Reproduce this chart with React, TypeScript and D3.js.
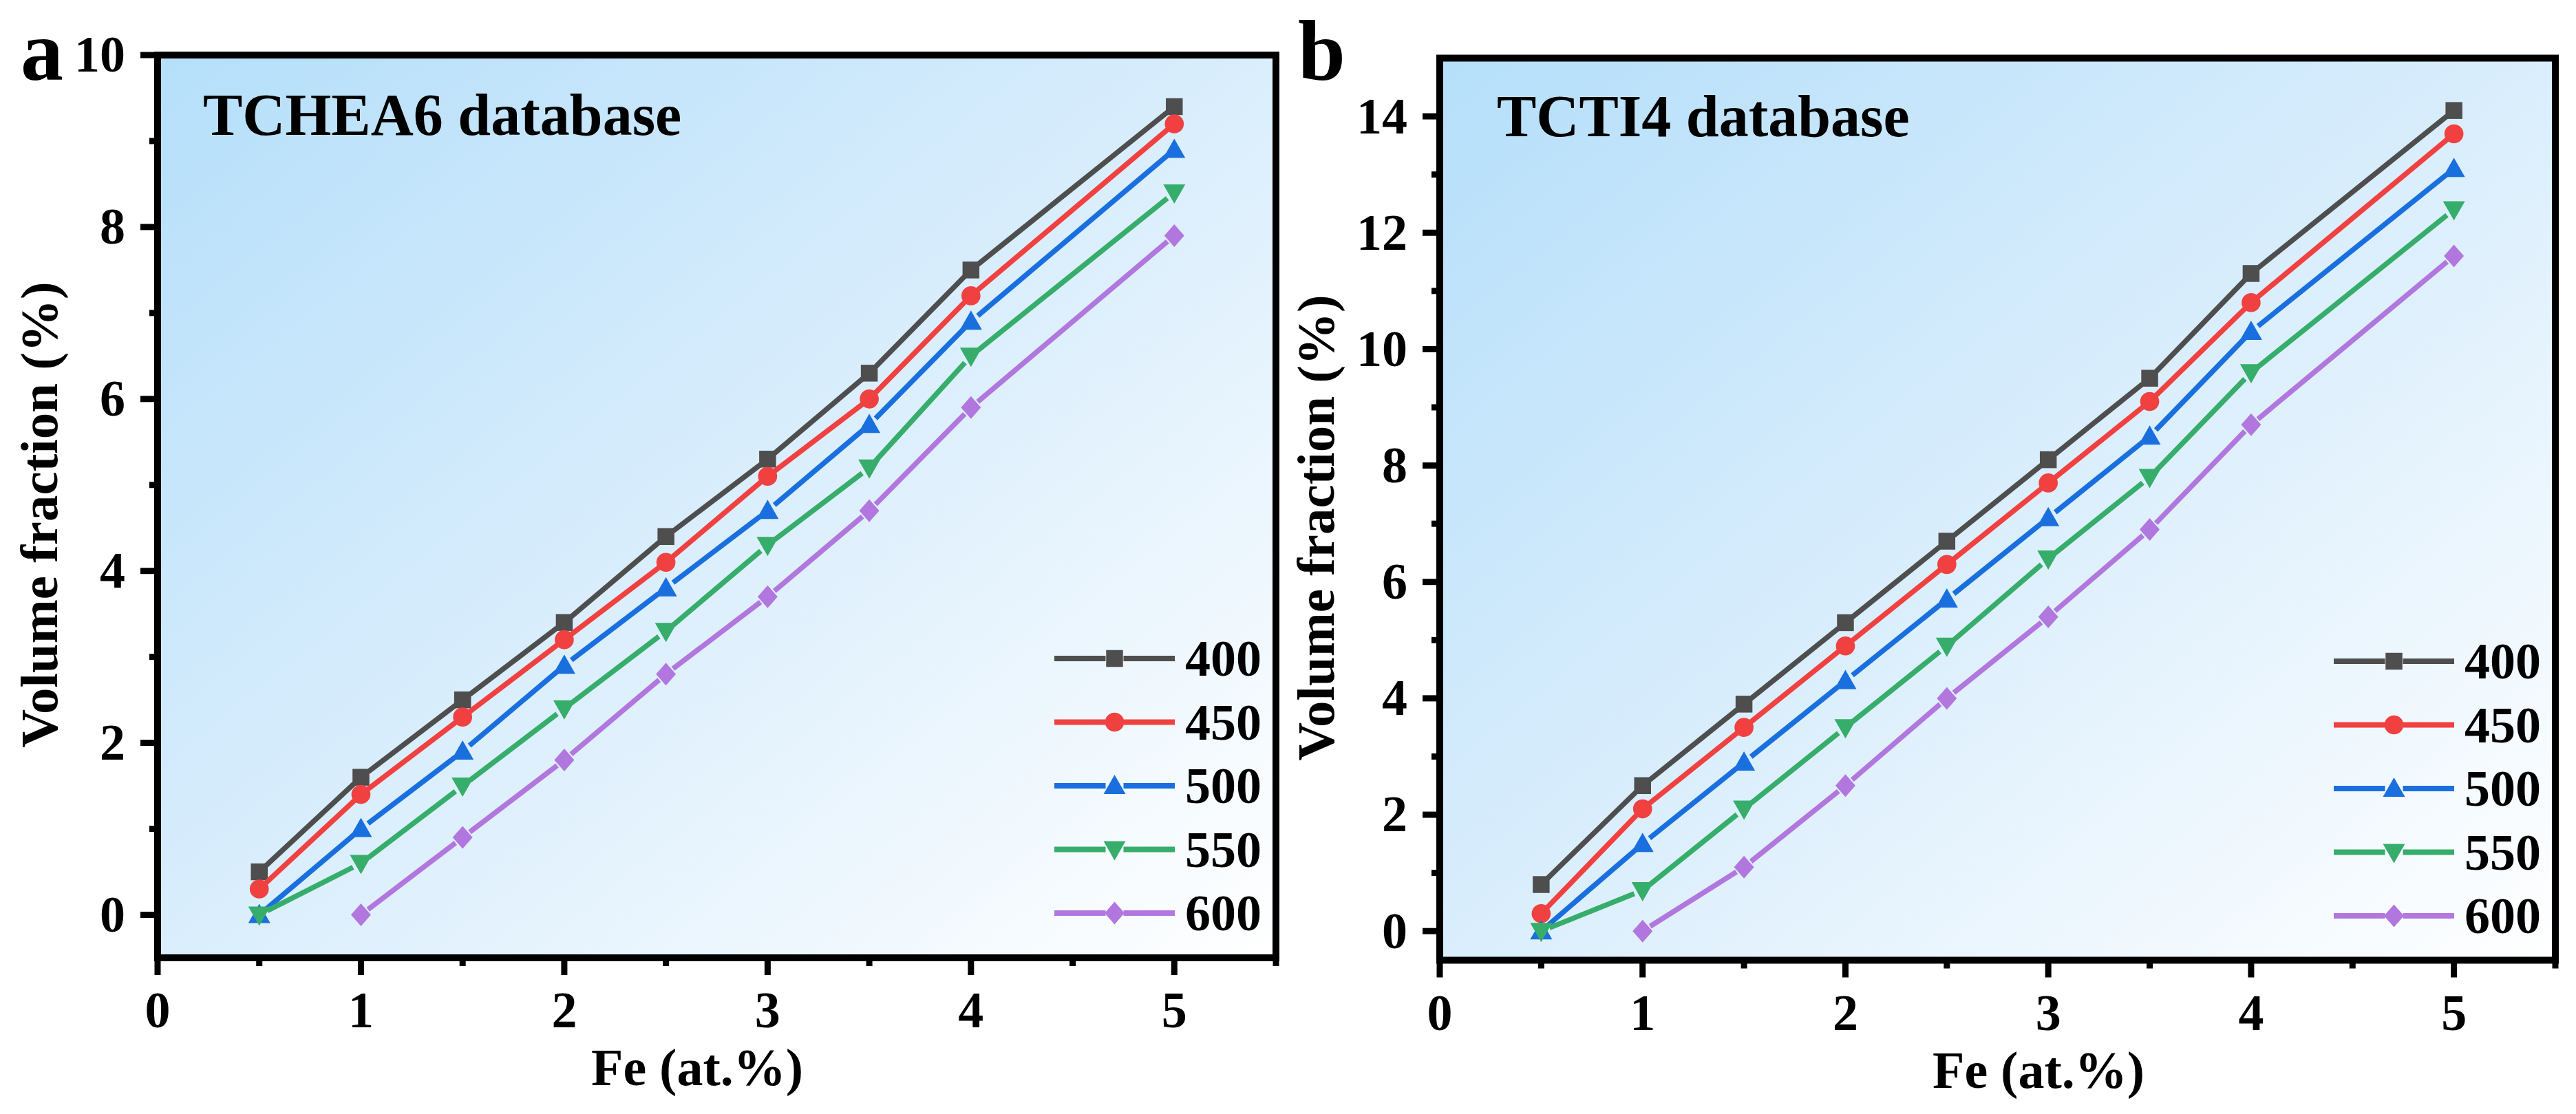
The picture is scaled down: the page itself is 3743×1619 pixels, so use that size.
import React from 'react';
import * as d3 from 'd3';

// ---------- data ----------
const feX = [0.5, 1, 1.5, 2, 2.5, 3, 3.5, 4, 5];
const feX600 = [1, 1.5, 2, 2.5, 3, 3.5, 4, 5];
const seriesNames = ['400', '450', '500', '550', '600'];

const a400 = [0.5, 1.6, 2.5, 3.4, 4.4, 5.3, 6.3, 7.5, 9.4];
const a450 = [0.3, 1.4, 2.3, 3.2, 4.1, 5.1, 6.0, 7.2, 9.2];
const a500 = [0.0, 1.0, 1.9, 2.9, 3.8, 4.7, 5.7, 6.9, 8.9];
const a550 = [0.0, 0.6, 1.5, 2.4, 3.3, 4.3, 5.2, 6.5, 8.4];
const a600 = [0.0, 0.9, 1.8, 2.8, 3.7, 4.7, 5.9, 7.9];

const b400 = [0.8, 2.5, 3.9, 5.3, 6.7, 8.1, 9.5, 11.3, 14.1];
const b450 = [0.3, 2.1, 3.5, 4.9, 6.3, 7.7, 9.1, 10.8, 13.7];
const b500 = [0.0, 1.5, 2.9, 4.3, 5.7, 7.1, 8.5, 10.3, 13.1];
const b550 = [0.0, 0.7, 2.1, 3.5, 4.9, 6.4, 7.8, 9.6, 12.4];
const b600 = [0.0, 1.1, 2.5, 4.0, 5.4, 6.9, 8.7, 11.6];

const xTicksMajor = [0, 1, 2, 3, 4, 5];
const xTicksMinor = [0.5, 1.5, 2.5, 3.5, 4.5, 5.5];
const aYMajor = [0, 2, 4, 6, 8, 10];
const aYMinor = [1, 3, 5, 7, 9];
const bYMajor = [0, 2, 4, 6, 8, 10, 12, 14];
const bYMinor = [1, 3, 5, 7, 9, 11, 13];

const colors = ['#4e4e4e', '#f04040', '#1a6fdf', '#37ad6b', '#b177de'];
const shapes = ['square', 'circle', 'up', 'down', 'diamond'];

// ---------- layout ----------
const W = 3743;
const H = 1619;
const FONT = "'Liberation Serif', 'Times New Roman', serif";

type Panel = {
  id: string;
  letter: string;
  title: string;
  left: number; right: number; top: number; bottom: number;
  yMax: number;
  yMajor: number[]; yMinor: number[];
  series: number[][];
  letterX: number; titleX: number; titleY: number;
  yTitleX: number; yTitleY: number;
  xTitleX: number;
  legendY: number;
};

const panels: Panel[] = [
  {
    id: 'a', letter: 'a', title: 'TCHEA6 database',
    left: 229, right: 1854, top: 80, bottom: 1392,
    yMax: 10, yMajor: aYMajor, yMinor: aYMinor,
    series: [a400, a450, a500, a550, a600],
    letterX: 30, titleX: 295, titleY: 196,
    yTitleX: 83, yTitleY: 748, xTitleX: 1013, legendY: 957,
  },
  {
    id: 'b', letter: 'b', title: 'TCTI4 database',
    left: 2092, right: 3713, top: 84.5, bottom: 1395.5,
    yMax: 15, yMajor: bYMajor, yMinor: bYMinor,
    series: [b400, b450, b500, b550, b600],
    letterX: 1886, titleX: 2175, titleY: 198,
    yTitleX: 1938, yTitleY: 767, xTitleX: 2962, legendY: 961,
  },
];

function markerPath(shape: string): string {
  switch (shape) {
    case 'square': return d3.symbol(d3.symbolSquare, 600)() as string;
    case 'circle': return d3.symbol(d3.symbolCircle, 600)() as string;
    case 'up': {
      const w = 32, h = 28;
      return `M0,${-h / 2 - 2}L${w / 2},${h / 2 - 2}L${-w / 2},${h / 2 - 2}Z`;
    }
    case 'down': {
      const w = 32, h = 28;
      return `M0,${h / 2 + 2}L${w / 2},${-h / 2 + 2}L${-w / 2},${-h / 2 + 2}Z`;
    }
    default: {
      const w = 29, h = 33;
      return `M0,${-h / 2}L${w / 2},0L0,${h / 2}L${-w / 2},0Z`;
    }
  }
}

const GAP = 13;

function segmentsPath(pts: [number, number][]): string {
  const p = d3.path();
  for (let i = 0; i < pts.length - 1; i++) {
    const [x0, y0] = pts[i];
    const [x1, y1] = pts[i + 1];
    const dx = x1 - x0, dy = y1 - y0;
    const len = Math.hypot(dx, dy);
    if (len <= 2 * GAP) continue;
    const ux = dx / len, uy = dy / len;
    p.moveTo(x0 + ux * GAP, y0 + uy * GAP);
    p.lineTo(x1 - ux * GAP, y1 - uy * GAP);
  }
  return p.toString();
}

function PanelView({ pn }: { pn: Panel }) {
  const x = d3.scaleLinear().domain([0, 5.5]).range([pn.left, pn.right]);
  const y = d3.scaleLinear().domain([-0.5, pn.yMax]).range([pn.bottom, pn.top]);
  const gradId = `bg-${pn.id}`;

  const legendLineL = pn.right - 322;
  const legendLineR = pn.right - 147;
  const legendMid = (legendLineL + legendLineR) / 2;
  const legendTextX = pn.right - 132;
  const legendStep = 92.5;

  return (
    <g>
      <defs>
        <linearGradient id={gradId} x1="0" y1="0" x2="1" y2="1">
          <stop offset="0" stopColor="#b5dffa" />
          <stop offset="0.45" stopColor="#d6ecfc" />
          <stop offset="1" stopColor="#ffffff" />
        </linearGradient>
      </defs>
      <rect x={pn.left} y={pn.top} width={pn.right - pn.left} height={pn.bottom - pn.top} fill={`url(#${gradId})`} />

      {/* data */}
      {pn.series.map((vals, si) => {
        const xs = si === 4 ? feX600 : feX;
        const pts: [number, number][] = vals.map((v, i) => [x(xs[i]), y(v)]);
        return (
          <g key={si}>
            <path d={segmentsPath(pts)} stroke={colors[si]} strokeWidth={7.5} fill="none" strokeLinecap="butt" />
            {pts.map((p, i) => (
              <path key={i} d={markerPath(shapes[si])} transform={`translate(${p[0]},${p[1]})`} fill={colors[si]} />
            ))}
          </g>
        );
      })}

      {/* legend */}
      {seriesNames.map((name, si) => {
        const ly = pn.legendY + si * legendStep;
        return (
          <g key={name}>
            <path d={segmentsPath([[legendLineL - GAP, ly], [legendMid, ly], [legendLineR + GAP, ly]])} stroke={colors[si]} strokeWidth={8} fill="none" />
            <path d={markerPath(shapes[si])} transform={`translate(${legendMid},${ly})`} fill={colors[si]} />
            <text x={legendTextX} y={ly + 25} fontFamily={FONT} fontWeight="bold" fontSize={74} fill="#000">{name}</text>
          </g>
        );
      })}

      {/* frame */}
      <rect x={pn.left} y={pn.top} width={pn.right - pn.left} height={pn.bottom - pn.top} fill="none" stroke="#000" strokeWidth={10} />

      {/* y ticks */}
      {pn.yMajor.map((t) => (
        <g key={`ym${t}`}>
          <line x1={pn.left - 25} x2={pn.left} y1={y(t)} y2={y(t)} stroke="#000" strokeWidth={9} />
          <text x={pn.left - 47} y={y(t)} dy="0.33em" textAnchor="end" fontFamily={FONT} fontWeight="bold" fontSize={74} fill="#000">{t}</text>
        </g>
      ))}
      {pn.yMinor.map((t) => (
        <line key={`yn${t}`} x1={pn.left - 12} x2={pn.left} y1={y(t)} y2={y(t)} stroke="#000" strokeWidth={9} />
      ))}

      {/* x ticks */}
      {xTicksMajor.map((t) => (
        <g key={`xm${t}`}>
          <line x1={x(t)} x2={x(t)} y1={pn.bottom} y2={pn.bottom + 25} stroke="#000" strokeWidth={9} />
          <text x={x(t)} y={pn.bottom + 101} textAnchor="middle" fontFamily={FONT} fontWeight="bold" fontSize={74} fill="#000">{t}</text>
        </g>
      ))}
      {xTicksMinor.map((t) => (
        <line key={`xn${t}`} x1={x(t)} x2={x(t)} y1={pn.bottom} y2={pn.bottom + 12} stroke="#000" strokeWidth={9} />
      ))}

      {/* titles */}
      <text x={pn.titleX} y={pn.titleY} fontFamily={FONT} fontWeight="bold" fontSize={86} fill="#000">{pn.title}</text>
      <text x={pn.letterX} y={116} fontFamily={FONT} fontWeight="bold" fontSize={124} fill="#000">{pn.letter}</text>
      <text transform={`translate(${pn.yTitleX},${pn.yTitleY}) rotate(-90)`} textAnchor="middle" fontFamily={FONT} fontWeight="bold" fontSize={77} fill="#000">Volume fraction (%)</text>
      <text x={pn.xTitleX} y={pn.bottom + 185} textAnchor="middle" fontFamily={FONT} fontWeight="bold" fontSize={76} fill="#000">Fe (at.%)</text>
    </g>
  );
}

export default function App() {
  return (
    <svg width={W} height={H} viewBox={`0 0 ${W} ${H}`} style={{ position: 'absolute', left: 0, top: 0, display: 'block', background: '#fff' }}>
      <rect x={0} y={0} width={W} height={H} fill="#fff" />
      {panels.map((pn) => <PanelView key={pn.id} pn={pn} />)}
    </svg>
  );
}
